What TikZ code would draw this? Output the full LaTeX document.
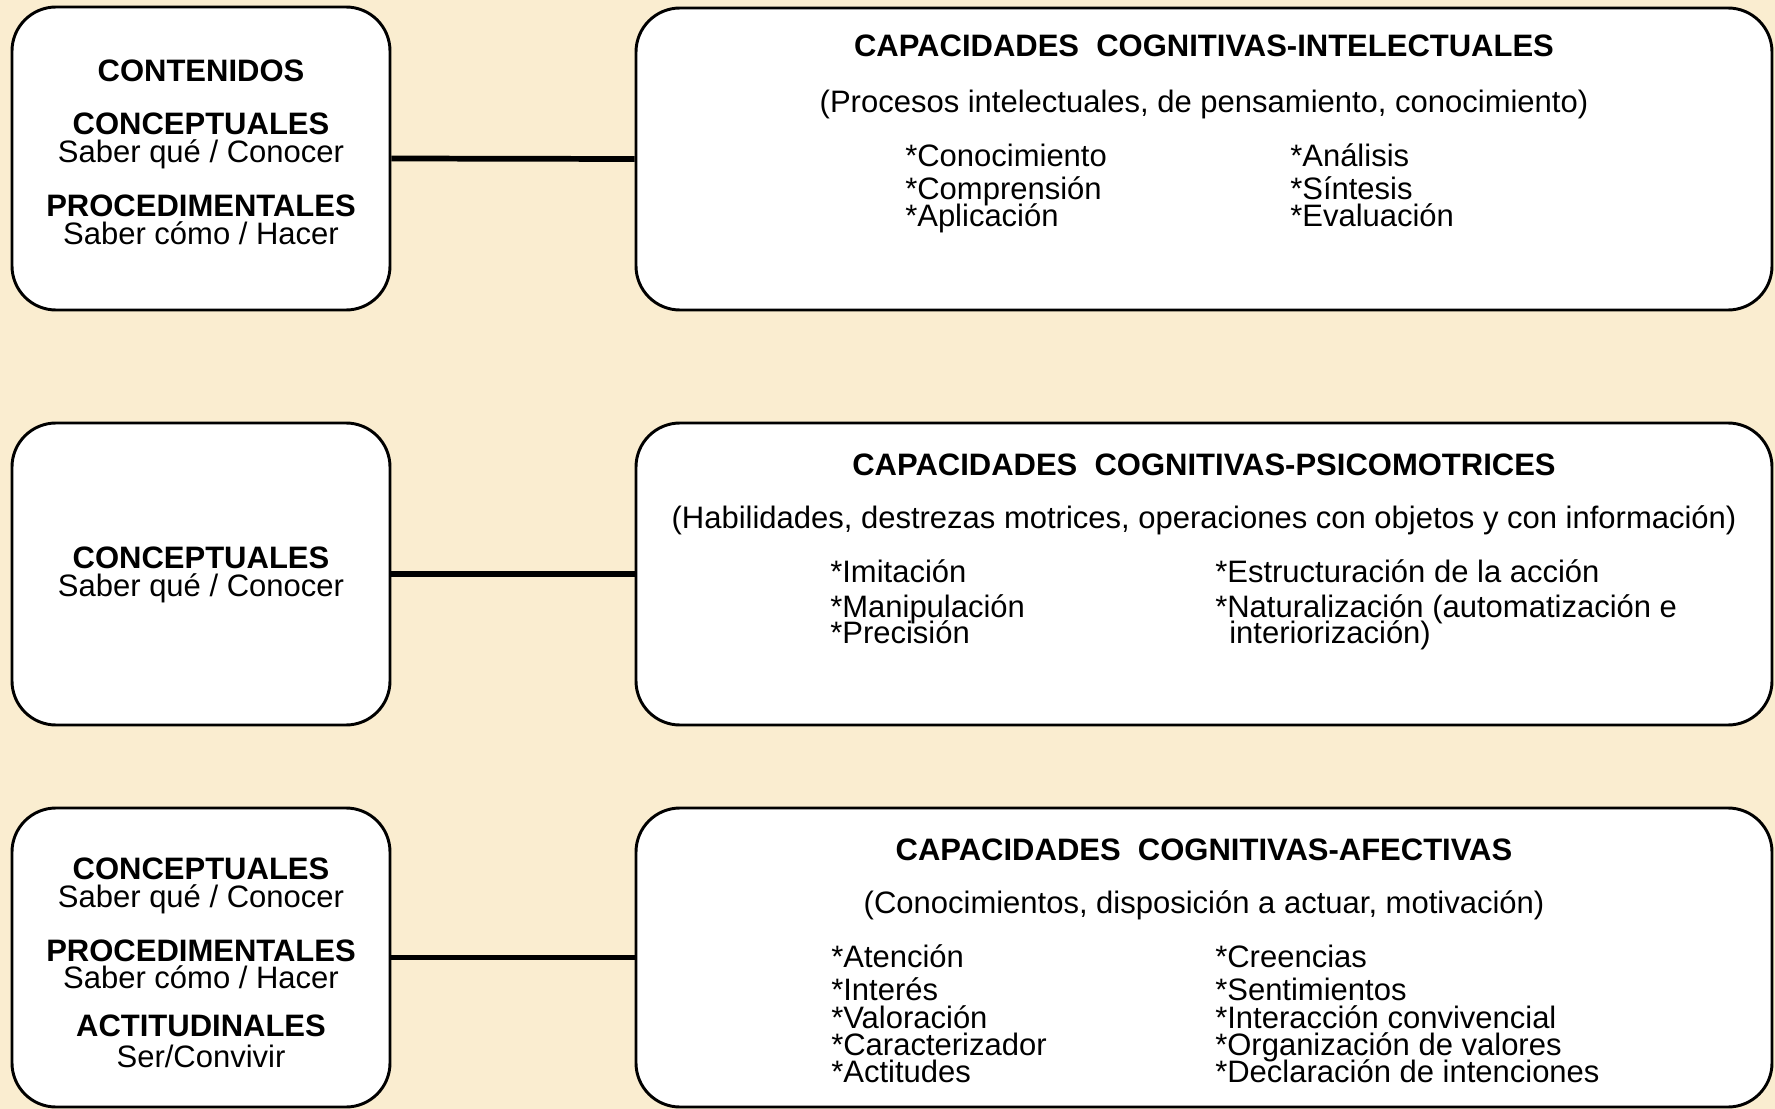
\documentclass[tikz,border=0pt]{standalone}
\usepackage{fontspec}
\setmainfont{Liberation Sans}
\usetikzlibrary{fit}
\definecolor{parch}{RGB}{250,237,208}
\tikzset{
  box/.style={draw=black, line width=2.2pt, fill=white, rounded corners=33pt, inner sep=0pt},
  link/.style={draw=black, line width=4.3pt},
  txt/.style={inner sep=0pt, font=\fontsize{23.25pt}{26pt}\selectfont, anchor=base},
  bold/.style={txt, font=\fontsize{23.25pt}{26pt}\selectfont\bfseries},
  item/.style={txt, anchor=base west}
}
\begin{document}
\begin{tikzpicture}[x=0.75pt,y=-0.75pt]
\fill[parch] (0,0) rectangle (1775,1109);
\useasboundingbox (0,0) rectangle (1775,1109);

% boxes
\node[box, fit={(12,7) (390,310)}] (L1) {};
\node[box, fit={(636,8) (1772,310)}] (R1) {};
\node[box, fit={(12,423) (390,725)}] (L2) {};
\node[box, fit={(636,423) (1772,725)}] (R2) {};
\node[box, fit={(12,808) (390,1107)}] (L3) {};
\node[box, fit={(636,808) (1772,1107)}] (R3) {};

% connectors
\draw[link] (L1.east) -- (R1.west);
\draw[link] (L2.east) -- (R2.west);
\draw[link] (L3.east) -- (R3.west);

% left box 1
\node[bold] (l1a) at (201,82) {CONTENIDOS};
\node[bold] (l1b) at (201,135) {CONCEPTUALES};
\node[txt]  (l1c) at (201,163) {Saber qué / Conocer};
\node[bold] (l1d) at (201,217) {PROCEDIMENTALES};
\node[txt]  (l1e) at (201,245) {Saber cómo / Hacer};

% left box 2
\node[bold] (l2a) at (201,568) {CONCEPTUALES};
\node[txt]  (l2b) at (201,596) {Saber qué / Conocer};

% left box 3
\node[bold] (l3a) at (201,879) {CONCEPTUALES};
\node[txt]  (l3b) at (201,907) {Saber qué / Conocer};
\node[bold] (l3c) at (201,961) {PROCEDIMENTALES};
\node[txt]  (l3d) at (201,988) {Saber cómo / Hacer};
\node[bold] (l3e) at (201,1036) {ACTITUDINALES};
\node[txt]  (l3f) at (201,1067) {Ser/Convivir};

% right box 1
\node[bold] (r1t) at (1204,57) {CAPACIDADES~~COGNITIVAS-INTELECTUALES};
\node[txt]  (r1s) at (1204,113) {(Procesos intelectuales, de pensamiento, conocimiento)};
\node[item] (r1a) at (905,167) {*Conocimiento};
\node[item] (r1b) at (905,200) {*Comprensión};
\node[item] (r1c) at (905,227) {*Aplicación};
\node[item] (r1d) at (1290,167) {*Análisis};
\node[item] (r1e) at (1290,200) {*Síntesis};
\node[item] (r1f) at (1290,227) {*Evaluación};

% right box 2
\node[bold] (r2t) at (1204,475) {CAPACIDADES~~COGNITIVAS-PSICOMOTRICES};
\node[txt]  (r2s) at (1204,528) {(Habilidades, destrezas motrices, operaciones con objetos y con información)};
\node[item] (r2a) at (830,582) {*Imitación};
\node[item] (r2b) at (830,617) {*Manipulación};
\node[item] (r2c) at (830,643) {*Precisión};
\node[item] (r2d) at (1215,582) {*Estructuración de la acción};
\node[item] (r2e) at (1215,617) {*Naturalización (automatización e};
\node[item] (r2f) at (1229,643) {interiorización)};

% right box 3
\node[bold] (r3t) at (1204,860) {CAPACIDADES~~COGNITIVAS-AFECTIVAS};
\node[txt]  (r3s) at (1204,913) {(Conocimientos, disposición a actuar, motivación)};
\node[item] (r3a) at (831,967) {*Atención};
\node[item] (r3b) at (831,1000) {*Interés};
\node[item] (r3c) at (831,1028) {*Valoración};
\node[item] (r3d) at (831,1055) {*Caracterizador};
\node[item] (r3e) at (831,1082) {*Actitudes};
\node[item] (r3f) at (1215,967) {*Creencias};
\node[item] (r3g) at (1215,1000) {*Sentimientos};
\node[item] (r3h) at (1215,1028) {*Interacción convivencial};
\node[item] (r3i) at (1215,1055) {*Organización de valores};
\node[item] (r3j) at (1215,1082) {*Declaración de intenciones};
\end{tikzpicture}
\end{document}
